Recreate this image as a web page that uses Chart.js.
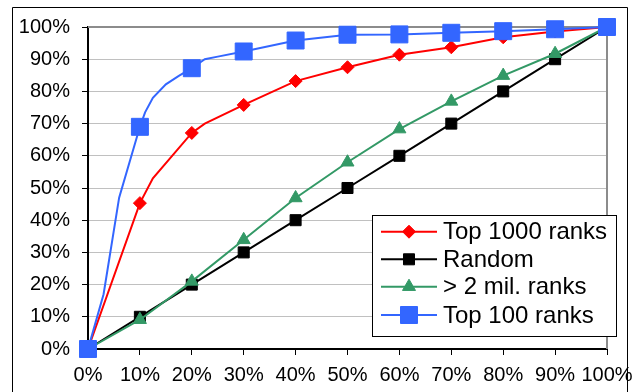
<!DOCTYPE html>
<html>
<head>
<meta charset="utf-8">
<script src="https://cdn.jsdelivr.net/npm/chart.js@4/dist/chart.umd.min.js"></script>
<style>
  html, body { margin: 0; padding: 0; background: #fff; }
  #wrap { width: 634px; height: 392px; position: relative; }
</style>
</head>
<body>
<div id="wrap"><canvas id="c" width="634" height="392"></canvas></div>
<script>
// Share of pages (x, %) against cumulative share found (y, %)
const tickValues = [0, 10, 20, 30, 40, 50, 60, 70, 80, 90, 100];

const top1000X = [0, 10, 12.5, 20, 22.5, 30, 40, 50, 60, 70, 80, 90, 100];
const top1000Y = [0, 45.3, 53, 67.1, 70, 75.8, 83.2, 87.5, 91.4, 93.7, 96.8, 98.6, 100];

const randomX = [0, 10, 20, 30, 40, 50, 60, 70, 80, 90, 100];
const randomY = [0, 10, 20, 30, 40, 50, 60, 70, 80, 90, 100];

const twoMilX = [0, 10, 20, 30, 40, 50, 60, 70, 80, 90, 100];
const twoMilY = [0, 9.1, 21, 33.9, 46.9, 58, 68.3, 76.9, 84.9, 91.7, 100];

const top100X = [0, 3, 6, 10, 11, 12.5, 15, 17.5, 20, 22.5, 25, 30, 40, 50, 60, 70, 80, 90, 100];
const top100Y = [0, 17, 47, 69, 73.5, 78, 82.2, 84.8, 87.2, 90, 90.8, 92.4, 95.8, 97.6, 97.7, 98.2, 98.7, 99.3, 100];

const seriesNames = ['Top 1000 ranks', 'Random', '> 2 mil. ranks', 'Top 100 ranks'];

const FONT = "'Liberation Sans', Arial, sans-serif";

function pts(xs, ys) { return xs.map((x, i) => ({ x: x, y: ys[i] })); }
// markers only on the 10% steps
function markerRadius(r) {
  return ctx => (ctx.raw && ctx.raw.x % 10 === 0 ? r : 0);
}

const styles = [
  { color: '#FF0000', point: 'rectRot', r: 6.5, order: 1, width: 2 },
  { color: '#000000', point: 'rect', r: 7.8, order: 3, width: 2 },
  { color: '#339966', point: 'triangle', r: 7.5, order: 2, width: 2 },
  { color: '#3366FF', point: 'rect', r: 12, order: 0, width: 2 }
];
const seriesData = [pts(top1000X, top1000Y), pts(randomX, randomY), pts(twoMilX, twoMilY), pts(top100X, top100Y)];

const datasets = seriesNames.map((name, i) => ({
  label: name,
  data: seriesData[i],
  borderColor: styles[i].color,
  backgroundColor: styles[i].color,
  borderWidth: styles[i].width,
  pointStyle: styles[i].point,
  pointRadius: markerRadius(styles[i].r),
  pointHoverRadius: markerRadius(styles[i].r),
  pointBorderWidth: 1,
  pointBackgroundColor: styles[i].color,
  pointBorderColor: styles[i].color,
  tension: 0,
  order: styles[i].order,
  clip: false
}));

// Outer frame and gray plot-area border (top and right)
const framePlugin = {
  id: 'frame',
  beforeDatasetsDraw(chart) {
    const { ctx, chartArea: a } = chart;
    ctx.save();
    ctx.strokeStyle = '#8c8c8c';
    ctx.lineWidth = 2;
    ctx.beginPath();
    ctx.moveTo(a.left, a.top);
    ctx.lineTo(a.right, a.top);
    ctx.lineTo(a.right, a.bottom);
    ctx.stroke();
    ctx.restore();
  },
  afterDraw(chart) {
    const ctx = chart.ctx;
    ctx.save();
    ctx.strokeStyle = '#000';
    ctx.lineWidth = 1;
    ctx.beginPath();
    ctx.moveTo(12.5, 400);
    ctx.lineTo(12.5, 7.5);
    ctx.lineTo(627.5, 7.5);
    ctx.lineTo(627.5, 400);
    ctx.stroke();
    ctx.restore();
  }
};

function drawMarker(ctx, style, r, x, y) {
  ctx.beginPath();
  if (style === 'rect') {
    const s = Math.SQRT1_2 * r;
    ctx.rect(x - s, y - s, 2 * s, 2 * s);
  } else if (style === 'rectRot') {
    ctx.moveTo(x, y - r);
    ctx.lineTo(x + r, y);
    ctx.lineTo(x, y + r);
    ctx.lineTo(x - r, y);
    ctx.closePath();
  } else if (style === 'triangle') {
    const a = Math.PI * 2 / 3;
    ctx.moveTo(x, y - r);
    ctx.lineTo(x + Math.sin(a) * r, y - Math.cos(a) * r);
    ctx.lineTo(x + Math.sin(2 * a) * r, y - Math.cos(2 * a) * r);
    ctx.closePath();
  }
  ctx.fill();
  ctx.stroke();
}

// Boxed legend with line + marker samples
const legendPlugin = {
  id: 'boxLegend',
  afterDraw(chart) {
    const ctx = chart.ctx;
    const box = { x: 372.5, y: 215.5, w: 244, h: 121 };
    const rows = [231.7, 259.3, 286.7, 315];
    ctx.save();
    ctx.fillStyle = '#fff';
    ctx.fillRect(box.x, box.y, box.w, box.h);
    ctx.strokeStyle = '#000';
    ctx.lineWidth = 1;
    ctx.strokeRect(box.x, box.y, box.w, box.h);
    seriesNames.forEach((name, i) => {
      const st = styles[i];
      const y = rows[i];
      ctx.strokeStyle = st.color;
      ctx.lineWidth = 2;
      ctx.beginPath();
      ctx.moveTo(381, y);
      ctx.lineTo(437, y);
      ctx.stroke();
      ctx.fillStyle = st.color;
      ctx.lineWidth = 1;
      drawMarker(ctx, st.point, st.r, 409, y);
      ctx.fillStyle = '#000';
      ctx.font = '24px ' + FONT;
      ctx.textBaseline = 'middle';
      ctx.textAlign = 'left';
      ctx.fillText(name, 443, y + 1);
    });
    ctx.restore();
  }
};

new Chart(document.getElementById('c'), {
  type: 'line',
  data: { datasets: datasets },
  options: {
    responsive: false,
    animation: false,
    devicePixelRatio: 1,
    layout: { padding: { left: 0, right: 27, top: 27, bottom: 0 } },
    plugins: { legend: { display: false }, tooltip: { enabled: false } },
    scales: {
      x: {
        type: 'linear',
        min: 0,
        max: 100,
        afterBuildTicks: s => { s.ticks = tickValues.map(v => ({ value: v })); },
        afterFit: s => { s.height = 43; s.paddingLeft = 0; s.paddingRight = 0; },
        ticks: {
          callback: v => v + '%',
          color: '#000',
          font: { family: FONT, size: 20 },
          padding: 8,
          maxRotation: 0,
          autoSkip: false
        },
        grid: { drawOnChartArea: false, tickLength: 6, tickColor: '#000', lineWidth: 1 },
        border: { color: '#000', width: 2 }
      },
      y: {
        min: 0,
        max: 100,
        afterBuildTicks: s => { s.ticks = tickValues.map(v => ({ value: v })); },
        afterFit: s => { s.width = 88; s.paddingTop = 0; s.paddingBottom = 0; },
        ticks: {
          callback: v => v + '%',
          color: '#000',
          font: { family: FONT, size: 20 },
          padding: 12,
          autoSkip: false
        },
        grid: {
          color: ctx => (ctx.tick && ctx.tick.value === 100 ? 'rgba(0,0,0,0)' : '#c0c0c0'),
          tickColor: '#000',
          tickLength: 6,
          lineWidth: 1
        },
        border: { color: '#000', width: 2 }
      }
    }
  },
  plugins: [framePlugin, legendPlugin]
});
</script>
</body>
</html>
